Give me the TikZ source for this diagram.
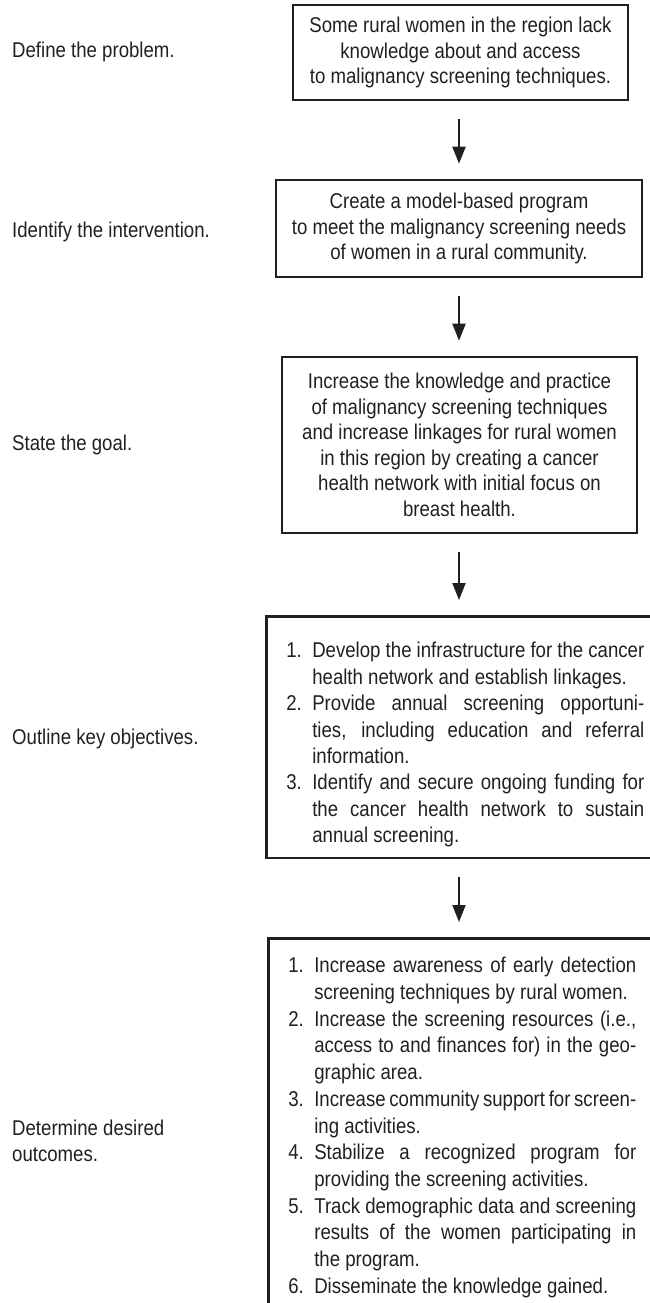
\documentclass[tikz,border=0pt]{standalone}
\usepackage{fontspec}
\setmainfont{Liberation Sans}[FakeStretch=0.87]
\usetikzlibrary{arrows.meta}
\definecolor{ink}{HTML}{231F20}
\newcommand\jrow[2]{\hbox to \hsize{\makebox[26pt][l]{#1}#2}}
\newcommand\lrow[2]{\hbox to \hsize{\makebox[26pt][l]{#1}#2\hfil}}
\begin{document}
\begin{tikzpicture}[x=1pt,y=-1pt,
  txt/.style={text=ink, font=\fontsize{21.4}{25.5}\selectfont},
  cbox/.style={txt, draw=ink, line width=2.6pt, align=center, inner sep=0pt},
  lbox/.style={txt, draw=ink, line width=2.6pt, anchor=north west, inner xsep=20pt},
  lab/.style={txt, anchor=west, inner sep=0pt, align=left},
  flow/.style={draw=ink, line width=2pt, -{Triangle[width=13pt,length=17pt]}, shorten <=18pt, shorten >=15pt}]
\useasboundingbox (0,0) rectangle (650,1303);
\clip (0,0) rectangle (650,1303);
\coordinate (ax) at (459,0);

\node[cbox, minimum width=335pt, minimum height=95pt] (b1) at (460.5,52.5)
  {Some rural women in the region lack\\knowledge about and access\\to malignancy screening techniques.};
\node[cbox, minimum width=366pt, minimum height=97pt] (b2) at (459,228.5)
  {Create a model-based program\\to meet the malignancy screening needs\\of women in a rural community.};
\node[cbox, minimum width=355pt, minimum height=176pt] (b3) at (459.5,445)
  {Increase the knowledge and practice\\of malignancy screening techniques\\and increase linkages for rural women\\in this region by creating a cancer\\health network with initial focus on\\breast health.};
\node[lbox, inner ysep=11pt] (b4) at (265,615)
  {\vbox{\hsize=358pt\baselineskip=26.4pt\vskip15pt
    \jrow{1.}{Develop the infrastructure for the cancer}
    \lrow{}{health network and establish linkages.}
    \jrow{2.}{Provide annual screening opportuni-}
    \jrow{}{ties, including education and referral}
    \lrow{}{information.}
    \jrow{3.}{Identify and secure ongoing funding for}
    \jrow{}{the cancer health network to sustain}
    \lrow{}{annual screening.}}};
\node[lbox, inner ysep=19pt] (b5) at (267,937)
  {\vbox{\hsize=348pt\baselineskip=26.7pt
    \jrow{1.}{Increase awareness of early detection}
    \lrow{}{screening techniques by rural women.}
    \jrow{2.}{Increase the screening resources (i.e.,}
    \jrow{}{access to and finances for) in the geo-}
    \lrow{}{graphic area.}
    \jrow{3.}{Increase community support for screen-}
    \lrow{}{ing activities.}
    \jrow{4.}{Stabilize a recognized program for}
    \lrow{}{providing the screening activities.}
    \jrow{5.}{Track demographic data and screening}
    \jrow{}{results of the women participating in}
    \lrow{}{the program.}
    \lrow{6.}{Disseminate the knowledge gained.}}};

\node[lab] (l1) at (12,52) {Define the problem.};
\node[lab] (l2) at (12,232) {Identify the intervention.};
\node[lab] (l3) at (12,445) {State the goal.};
\node[lab] (l4) at (12,739) {Outline key objectives.};
\node[lab] (l5) at (12,1141) {Determine desired\\outcomes.};

\draw[flow] (b1.south -| ax) -- (b2.north -| ax);
\draw[flow] (b2.south -| ax) -- (b3.north -| ax);
\draw[flow] (b3.south -| ax) -- (b4.north -| ax);
\draw[flow] (b4.south -| ax) -- (b5.north -| ax);
\end{tikzpicture}
\end{document}
